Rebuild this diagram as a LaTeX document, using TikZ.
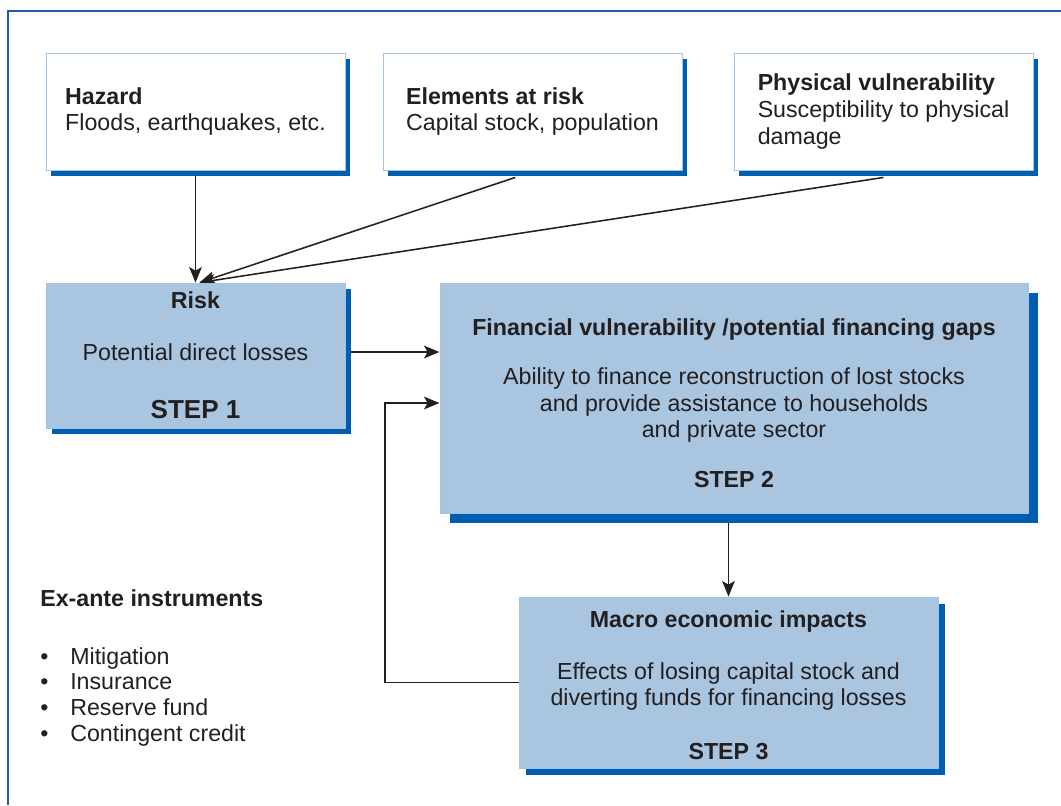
\documentclass[tikz,border=0pt]{standalone}
\usepackage{fontspec}
\setmainfont{Liberation Sans}
\usetikzlibrary{arrows.meta,shadows,backgrounds}

\definecolor{boxblue}{RGB}{169,197,224}
\definecolor{edgeblue}{RGB}{160,196,228}
\definecolor{shadeblue}{RGB}{0,94,176}
\definecolor{frameblue}{RGB}{28,92,168}
\definecolor{txt}{RGB}{35,31,32}
\newcommand{\bodyfont}{\fontsize{16.5}{19}\selectfont}
\newcommand{\stepfont}{\fontsize{18.5}{22}\selectfont}

\tikzset{
  base/.style={draw=edgeblue, line width=0.6pt, text=txt, font=\bodyfont, inner sep=0pt},
  whitebox/.style={base, fill=white, minimum width=7.475cm, minimum height=2.925cm, align=left,
    drop shadow={shadow xshift=0.125cm, shadow yshift=-0.15cm, fill=shadeblue, opacity=1}},
  bluebox/.style={base, fill=boxblue, align=center,
    drop shadow={shadow xshift=#1, shadow yshift=-#1, fill=shadeblue, opacity=1}},
  bluebox/.default=0.15cm,
  link/.style={draw=txt, line width=1.1pt, -{Stealth[length=11pt,width=9pt,inset=2.5pt]}}
}

\begin{document}
\begin{tikzpicture}[x=0.025cm,y=-0.025cm]
  \useasboundingbox (0,0) rectangle (1061,805);
  \draw[frameblue, line width=1.2pt] (1061,11) -- (8,11) -- (8,805);

  % top row
  \node[whitebox] (hazard) at (195.5,111.5) {\textbf{Hazard}\\Floods, earthquakes, etc.};
  \node[whitebox] (elem)   at (532.5,111.5) {\textbf{Elements at risk}\\Capital stock, population};
  \node[whitebox] (phys)   at (883.5,111.5) {\textbf{Physical vulnerability}\\Susceptibility to physical\\damage};

  % steps
  \node[bluebox, minimum width=7.475cm, minimum height=3.625cm] (risk) at (195.5,355.5)
    {\textbf{Risk}\\[18pt]Potential direct losses\\[22pt]{\stepfont\textbf{STEP 1}}};
  \node[bluebox=0.25cm, minimum width=14.7cm, minimum height=5.75cm] (fin) at (734,398)
    {\rule{0pt}{19pt}\textbf{Financial vulnerability /potential financing gaps}\\[16pt]Ability to finance reconstruction of lost stocks\\and provide assistance to households\\and private sector\\[16pt]\textbf{STEP 2}};
  \node[bluebox=0.18cm, minimum width=10.475cm, minimum height=4.275cm] (macro) at (728.5,682.5)
    {\rule{0pt}{16pt}\textbf{Macro economic impacts}\\[17.5pt]Effects of losing capital stock and\\diverting funds for financing losses\\[19pt]\textbf{STEP 3}};

  \node[anchor=north west, font=\fontsize{16.5}{18.3}\selectfont, text=txt, align=left, inner sep=0pt] (exante) at (40,589)
    {\textbf{Ex-ante instruments}\\[23pt]
     \makebox[0.75cm][l]{\textbullet}Mitigation\\
     \makebox[0.75cm][l]{\textbullet}Insurance\\
     \makebox[0.75cm][l]{\textbullet}Reserve fund\\
     \makebox[0.75cm][l]{\textbullet}Contingent credit};

  \coordinate (loop) at (385,403);

  \begin{scope}[on background layer]
    \draw[link] (hazard.south) -- (risk.north);
    \draw[link] ([xshift=-0.43cm,yshift=-0.175cm]elem.south) -- ([xshift=0.1cm]risk.north);
    \draw[link] ([yshift=-0.175cm]phys.south) -- ([xshift=0.1cm]risk.north);
    \draw[link] ([yshift=0.0875cm]risk.east) -- ([yshift=0.0875cm]risk.east -| fin.west);
    \draw[link] (fin.south -| macro.north) -- (macro.north);
    \draw[link] (macro.west) -| (loop) -- (loop -| fin.west); % feedback
  \end{scope}
\end{tikzpicture}
\end{document}
